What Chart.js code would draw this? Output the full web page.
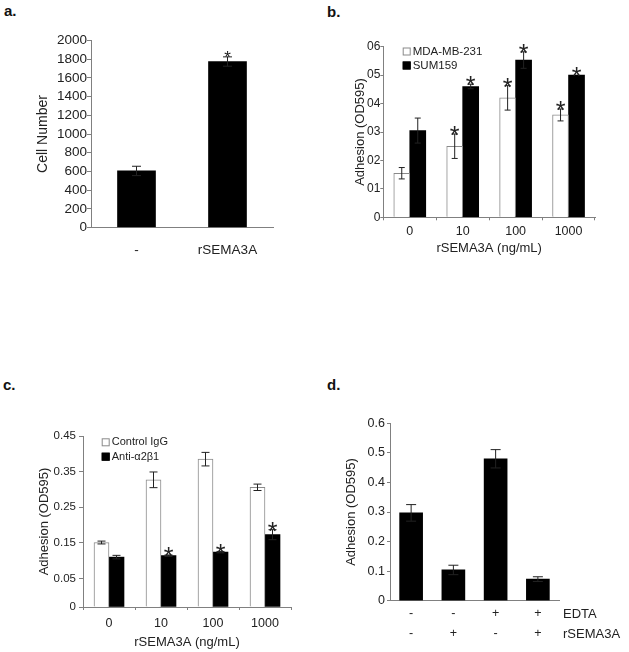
<!DOCTYPE html>
<html>
<head>
<meta charset="utf-8">
<script src="https://cdn.jsdelivr.net/npm/chart.js@4"></script>
<style>
  body { margin: 0; background: #fff; }
  #fig { position: relative; width: 629px; height: 652px; font-family: 'Liberation Sans', Arial, sans-serif; }
  #fig canvas { position: absolute; }
  .tag { position: absolute; font-weight: bold; font-size: 15px; line-height: 18px; color: #111; }
</style>
</head>
<body>
<div id="fig">
  <div class="tag" style="left:4px;top:2px">a.</div>
  <div class="tag" style="left:327px;top:3px">b.</div>
  <div class="tag" style="left:3px;top:376px">c.</div>
  <div class="tag" style="left:327px;top:376px">d.</div>
  <canvas id="chartA" width="310" height="290" style="left:0;top:0"></canvas>
  <canvas id="chartB" width="309" height="290" style="left:320px;top:0"></canvas>
  <canvas id="chartC" width="310" height="322" style="left:0;top:330px"></canvas>
  <canvas id="chartD" width="309" height="322" style="left:320px;top:330px"></canvas>
</div>
<script>
// panel a
const aLabels = ['-', 'rSEMA3A'];
const aValues = [605, 1775];
const aErrors = [50, 50];
const aStars = [false, true];

// panel b
const bDoses = ['0', '10', '100', '1000'];
const bMda = [0.155, 0.25, 0.42, 0.36];
const bMdaErr = [0.02, 0.043, 0.043, 0.021];
const bMdaStars = [false, true, true, true];
const bSum = [0.305, 0.46, 0.553, 0.50];
const bSumErr = [0.044, 0.008, 0.029, 0];
const bSumStars = [false, true, true, true];

// panel c
const cDoses = ['0', '10', '100', '1000'];
const cControl = [0.151, 0.327, 0.385, 0.306];
const cControlErr = [0.004, 0.022, 0.019, 0.009];
const cAnti = [0.110, 0.114, 0.124, 0.173];
const cAntiErr = [0.005, 0.002, 0.002, 0.014];
const cAntiStars = [false, true, true, true];
const cTickValues = [-0.03, 0.05, 0.15, 0.25, 0.35, 0.45];
const cTickLabels = ['0', '0.05', '0.15', '0.25', '0.35', '0.45'];

// panel d
const dEdta = ['-', '-', '+', '+'];
const dSema = ['-', '+', '-', '+'];
const dRowNames = ['EDTA', 'rSEMA3A'];
const dValues = [0.297, 0.104, 0.48, 0.073];
const dErrors = [0.028, 0.016, 0.031, 0.008];

const AXIS = '#808080';
const INK = '#222';
Chart.defaults.font.family = "'Liberation Sans', Arial, sans-serif";
Chart.defaults.color = INK;

// error bars + asterisks, read from each dataset
const errorBars = {
  id: 'errorBars',
  afterDatasetsDraw(chart, args, opts) {
    const ctx = chart.ctx;
    const ys = chart.scales.y;
    chart.data.datasets.forEach((ds, di) => {
      const meta = chart.getDatasetMeta(di);
      meta.data.forEach((bar, i) => {
        const v = ds.data[i];
        const e = ds.errors ? ds.errors[i] : 0;
        const top = ys.getPixelForValue(v + e);
        const bot = ys.getPixelForValue(v - e);
        const half = opts.cap / 2;
        ctx.save();
        ctx.strokeStyle = INK;
        ctx.lineWidth = 1;
        if (e > 0) {
          ctx.beginPath();
          ctx.moveTo(bar.x, top); ctx.lineTo(bar.x, bot);
          ctx.moveTo(bar.x - half, top); ctx.lineTo(bar.x + half, top);
          ctx.moveTo(bar.x - half, bot); ctx.lineTo(bar.x + half, bot);
          ctx.stroke();
        }
        if (ds.stars && ds.stars[i]) {
          ctx.fillStyle = INK;
          ctx.font = opts.starSize + "px 'Liberation Sans', Arial, sans-serif";
          ctx.textAlign = 'center';
          ctx.textBaseline = 'alphabetic';
          const centre = top - opts.starGap;
          ctx.fillText('*', bar.x, centre + opts.starSize * 0.57);
        }
        ctx.restore();
      });
    });
  }
};

// small legend drawn inside the plot
const boxLegend = {
  id: 'boxLegend',
  afterDraw(chart, args, opts) {
    if (!opts.show) return;
    const ctx = chart.ctx;
    const area = chart.chartArea;
    ctx.save();
    ctx.font = opts.size + "px 'Liberation Sans', Arial, sans-serif";
    ctx.textBaseline = 'middle';
    ctx.textAlign = 'left';
    chart.data.datasets.forEach((ds, i) => {
      const x = area.left + opts.dx;
      const y = area.top + opts.dy + i * opts.gap;
      ctx.fillStyle = ds.backgroundColor;
      ctx.fillRect(x, y - 4, 8, 8);
      ctx.strokeStyle = ds.borderColor;
      ctx.lineWidth = 1;
      ctx.strokeRect(x + 0.5, y - 3.5, 7, 7);
      ctx.fillStyle = INK;
      ctx.fillText(ds.label, x + 10, y);
    });
    ctx.restore();
  }
};

// row names to the right of the x labels (panel d)
const rowNames = {
  id: 'rowNames',
  afterDraw(chart, args, opts) {
    if (!opts.names) return;
    const ctx = chart.ctx;
    const area = chart.chartArea;
    ctx.save();
    ctx.font = opts.size + "px 'Liberation Sans', Arial, sans-serif";
    ctx.fillStyle = INK;
    ctx.textBaseline = 'middle';
    opts.names.forEach((n, i) => {
      ctx.fillText(n, area.right + opts.dx, area.bottom + opts.dy + i * opts.gap);
    });
    ctx.restore();
  }
};

Chart.register(errorBars, boxLegend, rowNames);

function yAxis(o) {
  const ticks = { padding: o.pad, color: INK, autoSkip: false, font: { size: o.font } };
  if (o.step) ticks.stepSize = o.step;
  ticks.callback = o.cb || (v => String(v));
  const axis = {
    min: o.min, max: o.max,
    ticks: ticks,
    grid: { drawOnChartArea: false, tickLength: o.tick, color: AXIS },
    border: { color: AXIS },
    title: { display: true, text: o.title, color: INK, font: { size: o.titleSize }, padding: { top: o.titlePad, bottom: 0 } },
    afterFit: s => { s.width = o.width; }
  };
  if (o.fixedTicks) axis.afterBuildTicks = s => { s.ticks = o.fixedTicks.map(v => ({ value: v })); };
  return axis;
}

function xAxis(o) {
  const axis = {
    ticks: { padding: o.pad, color: INK, maxRotation: 0, autoSkip: false, font: { size: o.font, lineHeight: o.lh || 1.2 } },
    grid: { drawOnChartArea: false, drawTicks: o.tick > 0, tickLength: o.tick, color: AXIS },
    border: { color: AXIS },
    afterFit: s => { s.height = o.height; }
  };
  if (o.title) axis.title = { display: true, text: o.title, color: INK, font: { size: 13 }, padding: { top: 0, bottom: o.titlePad } };
  return axis;
}

function barChart(id, cfg) {
  return new Chart(document.getElementById(id), {
    type: 'bar',
    data: { labels: cfg.labels, datasets: cfg.datasets },
    options: {
      responsive: false,
      animation: false,
      layout: { padding: cfg.padding },
      scales: { x: cfg.x, y: cfg.y },
      plugins: {
        legend: { display: false },
        tooltip: { enabled: false },
        errorBars: cfg.err,
        boxLegend: cfg.legend || { show: false },
        rowNames: cfg.rows || {}
      }
    }
  });
}

// a.
barChart('chartA', {
  labels: aLabels,
  datasets: [{ data: aValues, errors: aErrors, stars: aStars, backgroundColor: '#000', barThickness: 38 }],
  padding: { top: 40.5, right: 37, left: 0, bottom: 0 },
  x: xAxis({ font: 13.5, pad: 14.5, tick: 0, height: 62.5 }),
  y: yAxis({ min: 0, max: 2000, step: 200, font: 13.5, pad: 0, tick: 4, width: 91,
             title: 'Cell Number', titleSize: 14, titlePad: 34.6 }),
  err: { cap: 9, starSize: 17, starGap: 4 }
});

// b.
barChart('chartB', {
  labels: bDoses,
  datasets: [
    { label: 'MDA-MB-231', data: bMda, errors: bMdaErr, stars: bMdaStars,
      backgroundColor: '#fff', borderColor: '#8a8a8a', borderWidth: 1, barThickness: 16 },
    { label: 'SUM159', data: bSum, errors: bSumErr, stars: bSumStars,
      backgroundColor: '#000', borderColor: '#000', borderWidth: 0, barThickness: 16 }
  ],
  padding: { top: 46.7, right: 34, left: 0, bottom: 0 },
  x: xAxis({ font: 12.5, pad: 4, tick: 3, height: 72.7, title: 'rSEMA3A (ng/mL)', titlePad: 34.2 }),
  y: yAxis({ min: 0, max: 0.6, step: 0.1, font: 12, pad: 0, tick: 3, width: 63.3,
             cb: v => v === 0 ? '0' : '0' + Math.round(v * 10),
             title: 'Adhesion (OD595)', titleSize: 13, titlePad: 32.2 }),
  err: { cap: 6, starSize: 25, starGap: 4 },
  legend: { show: true, dx: 19.4, dy: 4.8, gap: 14, size: 11.5 }
});

// c.
const cMin = cTickValues[0];
barChart('chartC', {
  labels: cDoses,
  datasets: [
    { label: 'Control IgG', data: cControl, errors: cControlErr, base: cMin,
      backgroundColor: '#fff', borderColor: '#8a8a8a', borderWidth: 1, barThickness: 15 },
    { label: 'Anti-\u03b12\u03b21', data: cAnti, errors: cAntiErr, stars: cAntiStars, base: cMin,
      backgroundColor: '#000', borderColor: '#000', borderWidth: 0, barThickness: 15 }
  ],
  padding: { top: 106, right: 19, left: 0, bottom: 0 },
  x: xAxis({ font: 12.5, pad: 6, tick: 3, height: 45, title: 'rSEMA3A (ng/mL)', titlePad: 1.9 }),
  y: yAxis({ min: cMin, max: 0.45, font: 11.5, pad: 3, tick: 4, width: 83,
             fixedTicks: cTickValues, cb: (v, i) => cTickLabels[i],
             title: 'Adhesion (OD595)', titleSize: 13, titlePad: 36.5 }),
  err: { cap: 8, starSize: 25, starGap: 4 },
  legend: { show: true, dx: 18.7, dy: 6.3, gap: 14.4, size: 11 }
});

// d.
barChart('chartD', {
  labels: dEdta.map((e, i) => [e, dSema[i]]),
  datasets: [{ data: dValues, errors: dErrors, backgroundColor: '#000', barThickness: 23 }],
  padding: { top: 93.3, right: 70, left: 0, bottom: 0 },
  x: xAxis({ font: 12.5, lh: 1.6, pad: 3.3, tick: 0, height: 51.3 }),
  y: yAxis({ min: 0, max: 0.6, step: 0.1, font: 12.5, pad: 2, tick: 3, width: 70,
             cb: v => String(Math.round(v * 10) / 10),
             title: 'Adhesion (OD595)', titleSize: 13, titlePad: 23.9 }),
  err: { cap: 10, starSize: 20, starGap: 5 },
  rows: { names: dRowNames, dx: 4, dy: 13.3, gap: 20, size: 13 }
});
</script>
</body>
</html>
